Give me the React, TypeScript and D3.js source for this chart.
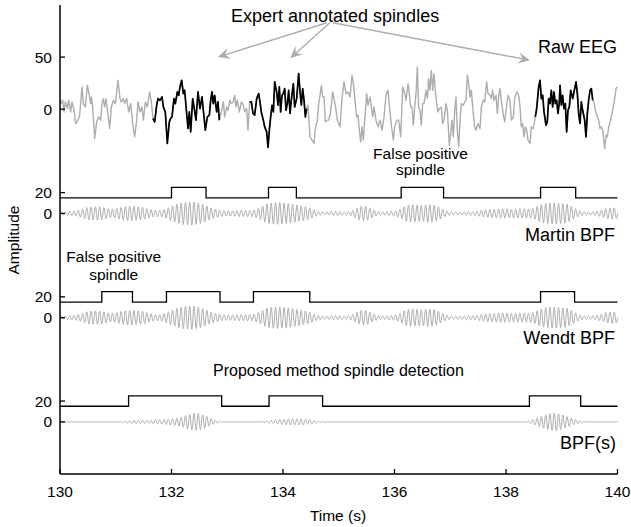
import React from "react";
import * as d3 from "d3";

// ---------- data ----------
const xTicks = [130, 132, 134, 136, 138, 140];
// y tick positions (data units on the stacked axis) and their shown labels
const yTickValues = [50, 0, -80, -100, -180, -200, -280, -300];
const yTickLabels = ["50", "0", "20", "0", "20", "0", "20", "0"];

// trace baselines on the stacked axis
const traceOffsets = { raw: 0, martin: -100, wendt: -200, proposed: -300 };
const detectLow = 15;
const detectHigh = 25;

// Raw EEG [time s, amplitude]
const rawEeg: [number, number][] = [
  [130.0, 9.3], [130.024, 5.4], [130.048, 8.6], [130.072, -2.6], [130.096, 7.0], [130.132, 0.6],
  [130.155, 8.6], [130.191, -2.6], [130.215, 7.0], [130.251, -1.0], [130.281, -13.7], [130.323, -10.5],
  [130.353, -5.7], [130.395, 21.4], [130.419, 5.4], [130.454, 2.2], [130.49, 23.0], [130.52, 15.0],
  [130.55, 5.4], [130.562, 11.8], [130.586, 2.2], [130.622, -28.1], [130.658, -12.1], [130.694, -7.3],
  [130.729, -10.5], [130.753, 5.4], [130.777, 10.2], [130.801, 2.2], [130.825, 10.2], [130.861, -5.7],
  [130.891, -18.5], [130.921, 2.2], [130.957, 8.6], [130.993, 5.4], [131.04, 27.8], [131.076, 10.2],
  [131.1, 7.0], [131.136, 10.2], [131.16, 5.4], [131.196, 10.2], [131.232, -2.6], [131.268, 5.4],
  [131.303, -13.7], [131.339, -26.5], [131.375, -10.5], [131.399, 7.0], [131.435, -2.6], [131.471, 2.2],
  [131.495, -10.5], [131.531, 7.0], [131.567, 2.2], [131.608, 16.6], [131.638, 7.0], [131.668, -8.9],
  [131.698, -12.1], [131.734, 3.8], [131.758, 10.2], [131.794, 8.6], [131.83, 11.8], [131.854, 2.2],
  [131.889, -2.6], [131.925, -32.9], [131.961, -12.1], [131.985, -8.9], [132.009, -7.3], [132.045, 10.2],
  [132.069, 5.4], [132.105, 16.6], [132.129, 13.4], [132.152, 21.4], [132.182, 27.8], [132.212, 15.0],
  [132.236, 18.2], [132.272, -4.1], [132.296, -18.5], [132.32, -2.6], [132.344, -21.7], [132.38, 10.2],
  [132.404, 2.2], [132.439, -10.5], [132.475, 16.6], [132.511, 0.6], [132.547, 11.8], [132.583, -7.3],
  [132.607, -20.1], [132.643, -7.3], [132.679, -5.7], [132.703, 8.6], [132.726, 16.6], [132.75, 5.4],
  [132.774, 13.4], [132.81, -2.6], [132.834, 7.0], [132.858, -10.5], [132.894, -2.6], [132.93, 7.0],
  [132.954, -7.3], [132.99, 2.2], [133.013, -1.0], [133.049, 8.6], [133.073, 5.4], [133.109, 7.0],
  [133.133, 13.4], [133.157, 2.2], [133.181, 8.6], [133.217, -2.6], [133.253, 7.0], [133.289, 3.8],
  [133.312, -2.6], [133.348, 0.6], [133.372, -20.1], [133.402, 7.0], [133.432, 7.0], [133.462, -4.1],
  [133.492, -5.7], [133.528, 10.2], [133.564, 15.0], [133.587, 7.0], [133.611, -2.6], [133.647, -10.5],
  [133.671, -16.9], [133.707, -21.7], [133.731, -36.7], [133.755, -20.1], [133.779, -7.3], [133.803, 3.8],
  [133.827, -2.6], [133.851, 26.2], [133.886, 16.6], [133.91, 3.8], [133.934, 21.4], [133.958, -2.6],
  [133.982, 13.4], [134.006, 15.0], [134.03, 19.8], [134.054, -1.0], [134.078, 5.4], [134.102, 18.2],
  [134.126, -4.1], [134.149, 8.6], [134.185, 24.6], [134.209, 2.2], [134.245, 10.2], [134.281, 34.2],
  [134.305, 16.6], [134.329, 3.8], [134.353, 19.8], [134.377, 8.6], [134.401, -7.3], [134.424, 0.6],
  [134.448, 3.8], [134.484, -26.5], [134.52, -29.7], [134.556, -32.9], [134.58, -18.5], [134.616, -10.5],
  [134.64, 5.4], [134.664, 13.4], [134.688, 23.0], [134.712, 11.8], [134.735, 11.8], [134.759, -12.1],
  [134.795, -10.5], [134.819, -10.5], [134.855, -2.6], [134.891, 16.6], [134.915, 10.2], [134.939, 3.8],
  [134.975, -10.5], [135.022, -16.9], [135.058, 10.2], [135.094, 26.2], [135.13, 15.0], [135.166, 16.6],
  [135.202, 11.8], [135.238, 32.6], [135.262, 24.6], [135.286, 11.8], [135.321, -7.3], [135.345, -5.7],
  [135.369, -20.1], [135.393, -31.3], [135.417, -16.9], [135.441, -29.7], [135.465, -10.5], [135.501, 15.0],
  [135.525, 3.8], [135.561, 11.8], [135.585, 2.2], [135.608, -7.3], [135.632, 2.2], [135.668, -10.5],
  [135.704, -16.9], [135.74, -10.5], [135.776, -20.1], [135.812, -7.3], [135.848, 13.4], [135.883, 18.2],
  [135.907, 3.8], [135.943, -15.3], [135.979, -29.7], [136.003, -16.9], [136.039, -10.5], [136.075, -10.5],
  [136.111, -26.5], [136.147, 21.4], [136.17, 18.2], [136.206, 8.6], [136.242, 24.6], [136.266, 15.0],
  [136.29, 2.2], [136.314, 2.2], [136.338, -15.3], [136.362, 2.2], [136.386, 15.0], [136.41, 40.5],
  [136.433, 2.2], [136.457, -1.0], [136.481, -15.3], [136.505, 5.4], [136.529, 5.4], [136.565, 18.2],
  [136.589, 10.2], [136.613, 29.4], [136.637, 18.2], [136.661, 37.3], [136.685, 18.2], [136.709, 34.2],
  [136.732, 18.2], [136.756, 5.4], [136.78, -2.6], [136.804, 0.6], [136.84, 2.2], [136.864, -13.7],
  [136.888, -10.5], [136.924, 5.4], [136.948, -1.0], [136.984, -34.5], [137.008, -23.3], [137.031, -10.5],
  [137.055, -26.5], [137.079, -2.6], [137.103, 11.8], [137.127, -20.1], [137.151, -36.1], [137.175, -12.1],
  [137.199, 5.4], [137.235, 3.8], [137.259, 7.0], [137.283, 8.6], [137.307, 32.6], [137.33, 24.6],
  [137.354, 11.8], [137.378, 18.2], [137.414, -4.1], [137.438, -16.9], [137.462, -20.1], [137.498, -13.7],
  [137.534, -18.5], [137.558, 2.2], [137.593, 8.6], [137.617, 7.0], [137.653, 26.2], [137.677, 15.0],
  [137.713, 13.4], [137.737, 10.2], [137.761, 18.2], [137.785, 8.6], [137.821, 13.4], [137.845, -4.1],
  [137.868, 11.8], [137.892, 19.8], [137.916, 8.6], [137.952, -5.7], [137.976, -12.1], [138.012, 3.8],
  [138.036, 13.4], [138.072, 8.6], [138.096, -10.5], [138.132, -7.3], [138.155, 10.2], [138.191, 16.6],
  [138.227, 13.4], [138.251, 2.2], [138.275, -16.9], [138.299, -13.7], [138.323, -26.5], [138.347, -16.9],
  [138.371, -20.1], [138.395, -29.7], [138.43, -32.9], [138.454, -16.9], [138.49, -18.5], [138.526, -7.3],
  [138.55, 0.6], [138.586, 21.4], [138.61, 27.8], [138.634, 10.2], [138.658, 13.4], [138.682, -2.6],
  [138.717, -15.3], [138.741, -12.1], [138.765, 10.2], [138.789, 5.4], [138.813, 18.2], [138.837, 2.2],
  [138.861, 16.6], [138.885, 5.4], [138.909, 8.6], [138.933, -4.1], [138.957, 7.0], [138.969, 23.0],
  [138.993, 3.8], [139.016, 13.4], [139.04, 0.6], [139.064, 5.4], [139.088, -21.7], [139.112, -1.0],
  [139.136, 2.2], [139.16, 18.2], [139.196, 10.2], [139.232, 19.8], [139.256, 26.2], [139.28, 15.0],
  [139.303, -4.1], [139.327, -13.7], [139.351, 7.0], [139.375, -1.0], [139.411, -10.5], [139.435, -26.5],
  [139.459, -4.1], [139.483, 8.6], [139.507, 18.2], [139.531, 19.8], [139.555, 8.6], [139.578, 7.0],
  [139.602, -1.0], [139.638, -7.3], [139.662, -10.5], [139.686, -18.5], [139.71, -16.9], [139.734, -20.1],
  [139.77, -37.7], [139.794, -24.9], [139.818, -26.5], [139.842, -16.9], [139.877, -10.5], [139.913, -1.0],
  [139.949, 10.2], [139.973, 19.8], [140.0, 21.4],
];

// expert annotated spindle intervals (s)
const expertSpindles: [number, number][] = [
  [131.668, 132.858],
  [133.402, 134.424],
  [138.526, 139.555],
];

// detector outputs (on intervals, s)
const martinDetections: [number, number][] = [[132.0, 132.62], [133.74, 134.24], [136.12, 136.88], [138.62, 139.25]];
const wendtDetections: [number, number][] = [[130.75, 131.3], [131.91, 132.87], [133.47, 134.48], [138.62, 139.23]];
const proposedDetections: [number, number][] = [[131.23, 132.9], [133.75, 134.71], [138.42, 139.34]];

// band-pass output envelopes, sampled every 0.1 s from 130.0 to 140.0
const envelopeStep = 0.1;
const bpfCarrierHz = 13;
// Martin and Wendt BPF outputs look the same at this scale
const bandpassEnvelope = [
  1.5, 1.5, 2, 2.5, 4, 6, 6.5, 6.5, 5.5, 4,
  4.5, 6, 7, 7, 6.5, 6, 4, 3, 3, 4.5,
  7, 9, 10.5, 11, 11, 10, 8, 5.5, 4, 3,
  2.5, 2.5, 3, 3, 3, 3.5, 6, 9, 10, 10.5,
  10, 9.5, 8.5, 7.5, 6.5, 5, 2.5, 1.5, 1.5, 2,
  2, 1.5, 2, 4, 7, 7, 4, 2, 1.5, 2,
  2.5, 4, 7.5, 8.5, 8, 7.5, 8.5, 8, 6, 3,
  1.5, 1.5, 1.5, 2, 2, 2.5, 3.5, 4, 4, 4.5,
  4.5, 4, 4.5, 4.5, 4, 5, 8, 9.5, 10, 10,
  9.5, 9, 6, 3, 1.5, 1.5, 2, 3, 5, 5.5,
  5,
];
const proposedEnvelope = [
  0, 0, 0, 0, 0, 0, 0, 0, 0, 0,
  0, 0.5, 1, 1.5, 1.5, 1.5, 1.5, 2, 2, 2.5,
  3, 3.5, 5, 7, 8, 8, 6, 3.5, 1.5, 0.5,
  0, 0, 0, 0, 0, 0, 0, 1, 1.5, 2,
  2.5, 3, 3, 3, 2.5, 2, 1, 0.5, 0, 0,
  0, 0, 0, 0, 0, 0, 0, 0, 0, 0,
  0, 0, 0, 0, 0, 0, 0, 0, 0, 0,
  0, 0, 0, 0, 0, 0, 0, 0, 0, 0,
  0, 0, 0, 0, 1, 2.5, 4.5, 6.5, 8, 8.5,
  7, 5, 3, 1.5, 0.5, 0, 0, 0, 0, 0,
  0,
];

// ---------- layout ----------
const W = 631;
const H = 527;
const FONT = "'Liberation Sans', Arial, Helvetica, sans-serif";
const GREY = "#adadad";

const x = d3.scaleLinear().domain([130, 140]).range([60, 617.5]);
const y = d3.scaleLinear().domain([-350, 100]).range([474, 5]);

function envAt(env: number[], t: number) {
  const p = (t - 130) / envelopeStep;
  const i = Math.max(0, Math.min(env.length - 2, Math.floor(p)));
  const f = Math.min(1, Math.max(0, p - i));
  return env[i] * (1 - f) + env[i + 1] * f;
}

function bpfTrace(env: number[], offset: number): [number, number][] {
  const pts: [number, number][] = [];
  const n = 2500;
  for (let k = 0; k <= n; k++) {
    const t = 130 + (10 * k) / n;
    pts.push([t, offset + envAt(env, t) * Math.sin(2 * Math.PI * bpfCarrierHz * (t - 130))]);
  }
  return pts;
}

function stepTrace(intervals: [number, number][], offset: number): [number, number][] {
  const pts: [number, number][] = [[130, offset + detectLow]];
  intervals.forEach(([a, b]) => {
    pts.push([a, offset + detectLow], [a, offset + detectHigh], [b, offset + detectHigh], [b, offset + detectLow]);
  });
  pts.push([140, offset + detectLow]);
  return pts;
}

const line = d3.line<[number, number]>().x((d) => x(d[0])).y((d) => y(d[1]));

function Arrow({ x1, y1, x2, y2 }: { x1: number; y1: number; x2: number; y2: number }) {
  const ang = (Math.atan2(y2 - y1, x2 - x1) * 180) / Math.PI;
  return (
    <g>
      <line x1={x1} y1={y1} x2={x2 - 6 * Math.cos((ang * Math.PI) / 180)} y2={y2 - 6 * Math.sin((ang * Math.PI) / 180)} stroke={GREY} strokeWidth={1.4} />
      <path d="M0,0 L-12,-5.5 L-7.5,0 L-12,5.5 Z" fill={GREY} transform={`translate(${x2},${y2}) rotate(${ang})`} />
    </g>
  );
}

export default function App() {
  const martin = bpfTrace(bandpassEnvelope, traceOffsets.martin);
  const wendt = bpfTrace(bandpassEnvelope, traceOffsets.wendt);
  const proposed = bpfTrace(proposedEnvelope, traceOffsets.proposed);

  const arrowStart: [number, number] = [134.84, 83];
  const arrowTips: [number, number][] = [[132.83, 50], [134.13, 49], [138.43, 47]];

  return (
    <svg width={W} height={H} style={{ position: "absolute", left: 0, top: 0, background: "#fff" }} fontFamily={FONT}>
      <rect width={W} height={H} fill="#fff" />
      {/* raw EEG */}
      <path d={line(rawEeg) || ""} fill="none" stroke={GREY} strokeWidth={1.4} strokeLinejoin="round" />
      {expertSpindles.map(([a, b], i) => (
        <path key={i} d={line(rawEeg.filter((d) => d[0] >= a && d[0] <= b)) || ""} fill="none" stroke="#000" strokeWidth={1.7} strokeLinejoin="round" />
      ))}

      {/* band-pass traces */}
      {[martin, wendt, proposed].map((p, i) => (
        <path key={i} d={line(p) || ""} fill="none" stroke={GREY} strokeWidth={1} />
      ))}

      {/* detection steps */}
      {[
        stepTrace(martinDetections, traceOffsets.martin),
        stepTrace(wendtDetections, traceOffsets.wendt),
        stepTrace(proposedDetections, traceOffsets.proposed),
      ].map((p, i) => (
        <path key={i} d={line(p) || ""} fill="none" stroke="#000" strokeWidth={1.3} />
      ))}

      {/* axes */}
      <line x1={x(130)} x2={x(130)} y1={y(100)} y2={y(-350)} stroke="#000" strokeWidth={1.5} />
      <line x1={x(130)} x2={x(140)} y1={y(-350)} y2={y(-350)} stroke="#000" strokeWidth={1.5} />
      {xTicks.map((t) => (
        <g key={t}>
          <line x1={x(t)} x2={x(t)} y1={y(-350)} y2={y(-350) - 5} stroke="#000" strokeWidth={1.3} />
          <text x={x(t)} y={496.5} textAnchor="middle" fontSize={15.5}>{t}</text>
        </g>
      ))}
      {yTickValues.map((v, i) => (
        <g key={i}>
          <line x1={x(130)} x2={x(130) + 5} y1={y(v)} y2={y(v)} stroke="#000" strokeWidth={1.3} />
          <text x={52} y={y(v)} dy="0.36em" textAnchor="end" fontSize={15.5}>{yTickLabels[i]}</text>
        </g>
      ))}
      <text x={338} y={521} textAnchor="middle" fontSize={15.5}>Time (s)</text>
      <text transform={`translate(19,240) rotate(-90)`} textAnchor="middle" fontSize={15.5}>Amplitude</text>

      {/* annotations */}
      <text x={231} y={22} fontSize={18}>Expert annotated spindles</text>
      {arrowTips.map((tip, i) => (
        <Arrow key={i} x1={x(arrowStart[0]) - 3 + i * 3} y1={y(arrowStart[1])} x2={x(tip[0])} y2={y(tip[1])} />
      ))}
      <text x={617} y={53} textAnchor="end" fontSize={18}>Raw EEG</text>
      <text x={615} y={240.5} textAnchor="end" fontSize={18}>Martin BPF</text>
      <text x={615} y={344} textAnchor="end" fontSize={18}>Wendt BPF</text>
      <text x={616} y={448.5} textAnchor="end" fontSize={18}>BPF(s)</text>

      <text x={420.5} y={158.5} textAnchor="middle" fontSize={15.5}>False positive</text>
      <text x={420.5} y={175} textAnchor="middle" fontSize={15.5}>spindle</text>
      <text x={113.7} y={262.3} textAnchor="middle" fontSize={15.5}>False positive</text>
      <text x={113.7} y={279.5} textAnchor="middle" fontSize={15.5}>spindle</text>
      <text x={213} y={376} fontSize={16}>Proposed method spindle detection</text>
    </svg>
  );
}
